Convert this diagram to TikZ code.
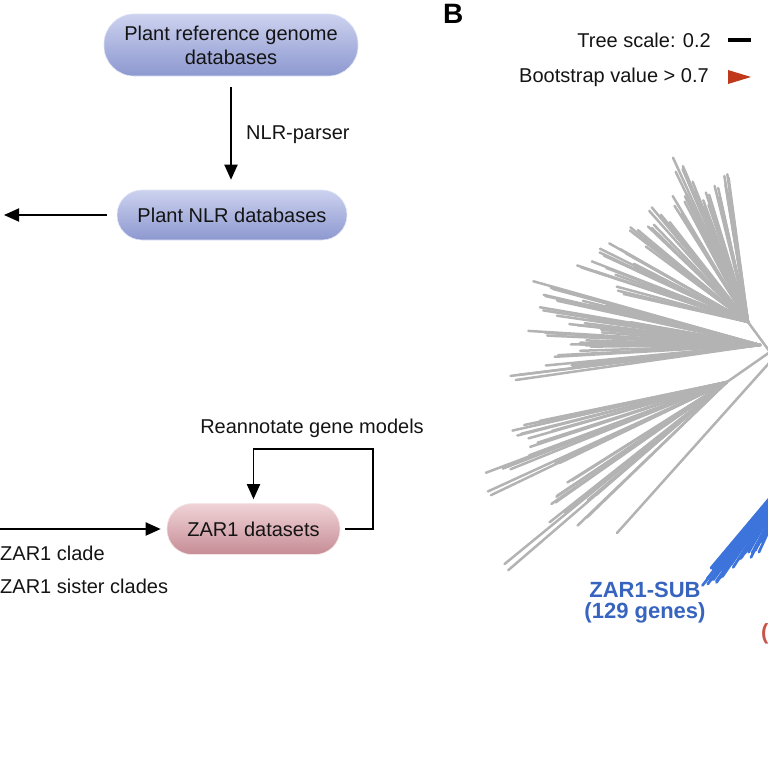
\documentclass[tikz,border=0pt]{standalone}
\usepackage{fontspec}
\setmainfont{Liberation Sans}
\usetikzlibrary{arrows.meta,calc}
\definecolor{treegray}{HTML}{B3B3B3}
\definecolor{treeblue}{HTML}{3D74DB}
\definecolor{labblue}{HTML}{3764BE}
\definecolor{bsred}{HTML}{C0391B}
\definecolor{parred}{HTML}{C8544A}
\definecolor{bluetop}{HTML}{CCD2EF}
\definecolor{bluebot}{HTML}{8D98D0}
\definecolor{pinktop}{HTML}{F0D4D7}
\definecolor{pinkbot}{HTML}{C68C95}
\begin{document}
\begin{tikzpicture}[x=1pt,y=-1pt,
  lbl/.style={font=\fontsize{20}{24}\selectfont, inner sep=0pt, text=black!92},
  bluepill/.style={lbl, align=center, top color=bluetop, bottom color=bluebot, draw=bluetop!60!white, line width=0.6pt},
  pinkpill/.style={lbl, align=center, top color=pinktop, bottom color=pinkbot, draw=pinktop!60!white, line width=0.6pt},
  arr/.style={line width=1.9pt, -{Triangle[length=15pt,width=13pt]}},
  grayline/.style={treegray, line width=2.5pt, line cap=round},
  blueline/.style={treeblue, line width=2.7pt, line cap=round}]
\useasboundingbox (0,0) rectangle (768,768);

% ---- panel A flow ----
\node[bluepill, minimum width=254pt, minimum height=62pt, rounded corners=30pt] (b1) at (231,45) {Plant reference genome\\databases};
\node[bluepill, minimum width=230pt, minimum height=50pt, rounded corners=25pt] (b2) at (232,215) {Plant NLR databases};
\node[pinkpill, minimum width=173pt, minimum height=51pt, rounded corners=25pt] (zar) at (253.5,529) {ZAR1 datasets};

\draw[arr] ([yshift=-11pt]b1.south) -- ([yshift=10pt]b1.south |- b2.north);
\node[lbl, anchor=west] (nlrp) at (246,135) {NLR-parser};

\coordinate (leftend) at (4,215);
\draw[arr] ([xshift=-10pt]b2.west) -- (leftend);

\coordinate (zstart) at (0,529);
\draw[arr] (zstart) -- ([xshift=-6pt]zar.west);
\draw[arr] ([xshift=5pt]zar.east) -- ++(28,0) |- ([yshift=54pt]zar.north) -- ([yshift=4pt]zar.north);
\node[lbl] (rean) at (312,428) {Reannotate gene models};
\node[lbl, anchor=west] (clade) at (0,553) {ZAR1 clade};
\node[lbl, anchor=west] (sister) at (0,586) {ZAR1 sister clades};

% ---- panel B ----
\node[font=\fontsize{28}{30}\selectfont\bfseries, inner sep=0pt, anchor=north west] (B) at (443,4) {B};
\node[lbl, anchor=east] (scale) at (711,40) {Tree scale: 0.2};
\draw[line width=3.2pt] (728,40) -- (751,40);
\node[lbl, anchor=east] (boot) at (709,77) {Bootstrap value > 0.7};
\fill[bsred] (728,70) -- (751,77) -- (728,84) -- cycle;

\begin{scope}
\clip (0,0) rectangle (768,768);
\pgfmathsetseed{11}
\coordinate (R) at (770,352);
\coordinate (U) at (748,322);
\coordinate (V) at (760,345);
\coordinate (L) at (727,382);
\coordinate (BB) at (800,462);
\draw[grayline] (R) -- (U);
\draw[grayline] (R) -- (L);
\draw[grayline] (770,362) -- (617,533);
% upper fan
\foreach \ex/\ey in {672/155,678/160,725/160,728/183,717/187,707/192,697/195,690/178,670/198,650/205,643/218,628/227,610/242,597/250,590/263,575/267,613/288,700/200,660/215,620/260,640/240,684/190}{
  \foreach \k in {1,2,3}{
    \pgfmathsetmacro{\myf}{1-0.14*rnd}
    \pgfmathsetmacro{\mydx}{(rnd-0.5)*8}
    \pgfmathsetmacro{\mydy}{(rnd-0.5)*8}
    \draw[grayline] (U) -- ($(U)!\myf!(\ex,\ey)+(\mydx,\mydy)$);
  }
}
% left fan
\foreach \ex/\ey in {522/278,528/291,557/322,527/332,587/320,593/330,560/342,553/355,545/368,500/380,575/300,600/305,540/310,580/345,610/320}{
  \foreach \k in {1,2,3}{
    \pgfmathsetmacro{\myf}{1-0.14*rnd}
    \pgfmathsetmacro{\mydx}{(rnd-0.5)*6}
    \pgfmathsetmacro{\mydy}{(rnd-0.5)*6}
    \draw[grayline] (V) -- ($(V)!\myf!(\ex,\ey)+(\mydx,\mydy)$);
  }
}
% lower fan
\foreach \ex/\ey in {523/427,510/430,500/439,520/448,530/440,472/482,488/495,500/470,538/512,540/532,568/532,560/487,497/575,550/500,580/510,515/460,545/470}{
  \foreach \k in {1,2}{
    \pgfmathsetmacro{\myf}{1-0.12*rnd}
    \pgfmathsetmacro{\mydx}{(rnd-0.5)*6}
    \pgfmathsetmacro{\mydy}{(rnd-0.5)*6}
    \draw[grayline] (L) -- ($(L)!\myf!(\ex,\ey)+(\mydx,\mydy)$);
  }
}
% blue clade
\foreach \ex/\ey in {708/578,712/585,717/580,722/575,727/570,733/565,740/560,747/558,753/557,757/548,760/540,715/572,703/590,730/556,745/545,720/568}{
  \foreach \k in {1,2,3}{
    \pgfmathsetmacro{\myf}{1-0.1*rnd}
    \pgfmathsetmacro{\mydx}{(rnd-0.5)*6}
    \pgfmathsetmacro{\mydy}{(rnd-0.5)*6}
    \draw[blueline] (BB) -- ($(BB)!\myf!(\ex,\ey)+(\mydx,\mydy)$);
  }
}
\node[font=\fontsize{22}{24}\selectfont\bfseries, text=parred, inner sep=0pt, anchor=west] (redpar) at (761,634) {(};
\end{scope}
\node[font=\fontsize{22}{21}\selectfont\bfseries, text=labblue, align=center, inner sep=0pt] (sub) at (645,603) {ZAR1-SUB\\(129 genes)};
\end{tikzpicture}
\end{document}
